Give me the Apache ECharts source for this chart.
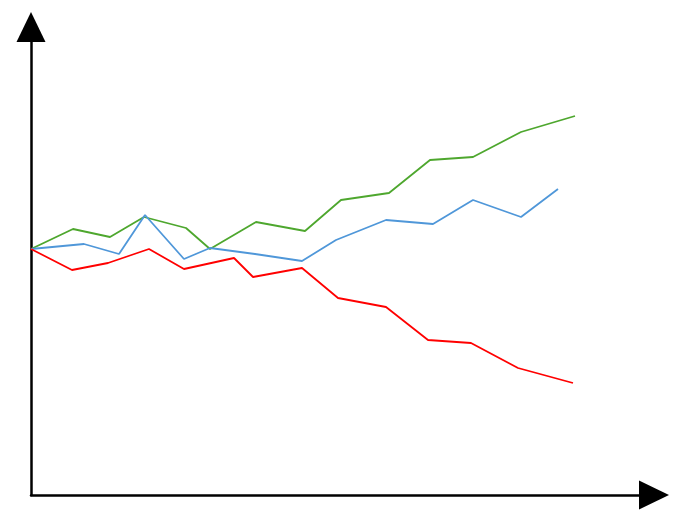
<!DOCTYPE html>
<html>
<head>
<meta charset="utf-8">
<script src="https://cdn.jsdelivr.net/npm/echarts@6/dist/echarts.min.js"></script>
<style>
  html, body { margin: 0; padding: 0; background: #fff; }
  #chart { width: 681px; height: 517px; }
</style>
</head>
<body>
<div id="chart"></div>
<script>
// values (x along the axis, y up from the axis)
var greenX = [0, 42, 79, 113, 155, 179, 225, 274, 310, 358, 399, 442, 490, 544];
var greenY = [246, 266, 258, 278, 267, 246, 273, 264, 295, 302, 335, 338, 363, 379];

var blueX = [0, 53, 88, 114, 153, 179, 224, 271, 305, 355, 402, 442, 490, 527];
var blueY = [246, 251, 241, 280, 236, 247, 241, 234, 255, 275, 271, 295, 278, 306];

var redX = [0, 41, 77, 118, 153, 203, 222, 271, 307, 355, 397, 440, 487, 542];
var redY = [246, 225, 232, 246, 226, 237, 218, 227, 197, 188, 155, 152, 127, 112];

function pairs(xs, ys) {
  return xs.map(function (x, i) { return [x, ys[i]]; });
}

function line(color, xs, ys) {
  return {
    type: 'line',
    data: pairs(xs, ys),
    symbol: 'none',
    lineStyle: { color: color, width: 1.8 },
    silent: true,
    animation: false
  };
}

var chart = echarts.init(document.getElementById('chart'));
var option = {
  animation: false,
  grid: { left: 31, right: 27, top: 27, bottom: 22 },
  xAxis: {
    type: 'value', min: 0, max: 623,
    splitLine: { show: false }, axisTick: { show: false }, axisLabel: { show: false },
    axisLine: {
      lineStyle: { color: '#000', width: 2.5 },
      symbol: ['none', 'triangle'], symbolSize: [29, 30]
    }
  },
  yAxis: {
    type: 'value', min: 0, max: 468,
    splitLine: { show: false }, axisTick: { show: false }, axisLabel: { show: false },
    axisLine: {
      show: true,
      lineStyle: { color: '#000', width: 2.5 },
      symbol: ['none', 'triangle'], symbolSize: [29, 30]
    }
  },
  series: [
    line('#4ea72e', greenX, greenY),
    line('#4f97d9', blueX, blueY),
    line('#ff0000', redX, redY)
  ]
};
chart.setOption(option);
</script>
</body>
</html>
